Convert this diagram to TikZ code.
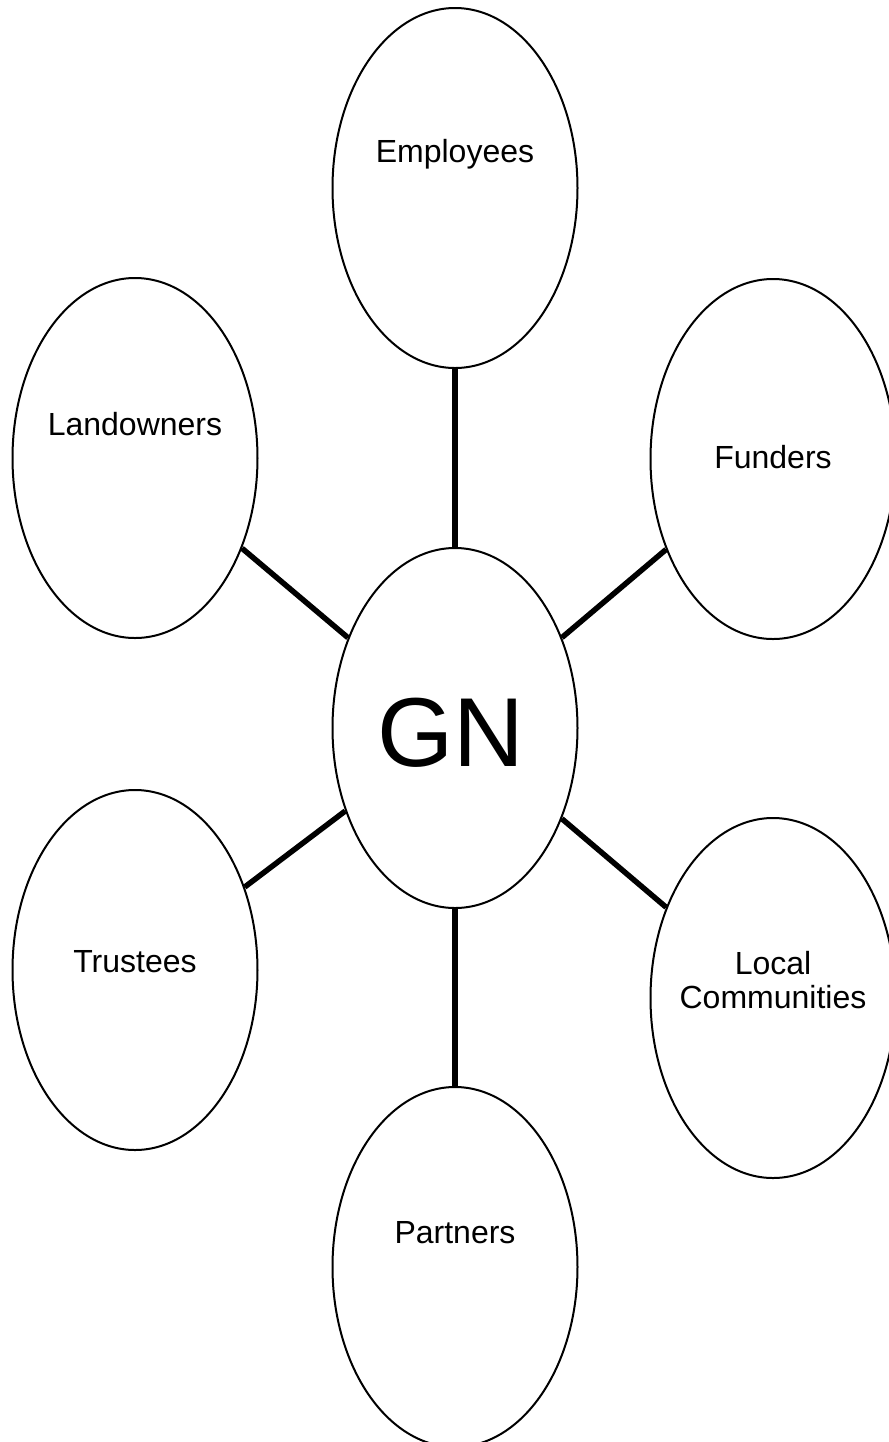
\documentclass[tikz,border=0pt]{standalone}
\usepackage{fontspec}
\setmainfont{Liberation Sans}
\usepackage{tikz}
\usetikzlibrary{shapes.geometric}

\tikzset{
    party/.style={draw, ellipse, line width=1pt, minimum width=122.5pt, minimum height=180pt, inner sep=0pt},
    partytext/.style={font=\fontsize{16}{17}\selectfont, align=center},
    tie/.style={line width=2.75pt}
}

\begin{document}
\begin{tikzpicture}[x=0.5pt, y=-0.5pt]
    \useasboundingbox (0,0) rectangle (889,1442);

    % centre
    \node[party] (gn) at (455,728) {};
    \node[font=\fontsize{49}{52}\selectfont] (gn_txt) at (451,733) {GN};

    % stakeholders
    \node[party, label={[partytext, yshift=17pt]center:Employees}] (employees) at (455,188) {};
    \node[party, label={[partytext, yshift=17pt]center:Landowners}] (landowners) at (135,458) {};
    \node[party, label={[partytext, yshift=1pt]center:Funders}] (funders) at (773,459) {};
    \node[party, label={[partytext, yshift=4pt]center:Trustees}] (trustees) at (135,970) {};
    \node[party, label={[partytext, yshift=9pt]center:Local\\Communities}] (local) at (773,998) {};
    \node[party, label={[partytext, yshift=17pt]center:Partners}] (partners) at (455,1267) {};

    % ties
    \foreach \who in {employees, landowners, funders, trustees, local, partners}
        \draw[tie] (gn) -- (\who);
\end{tikzpicture}
\end{document}
